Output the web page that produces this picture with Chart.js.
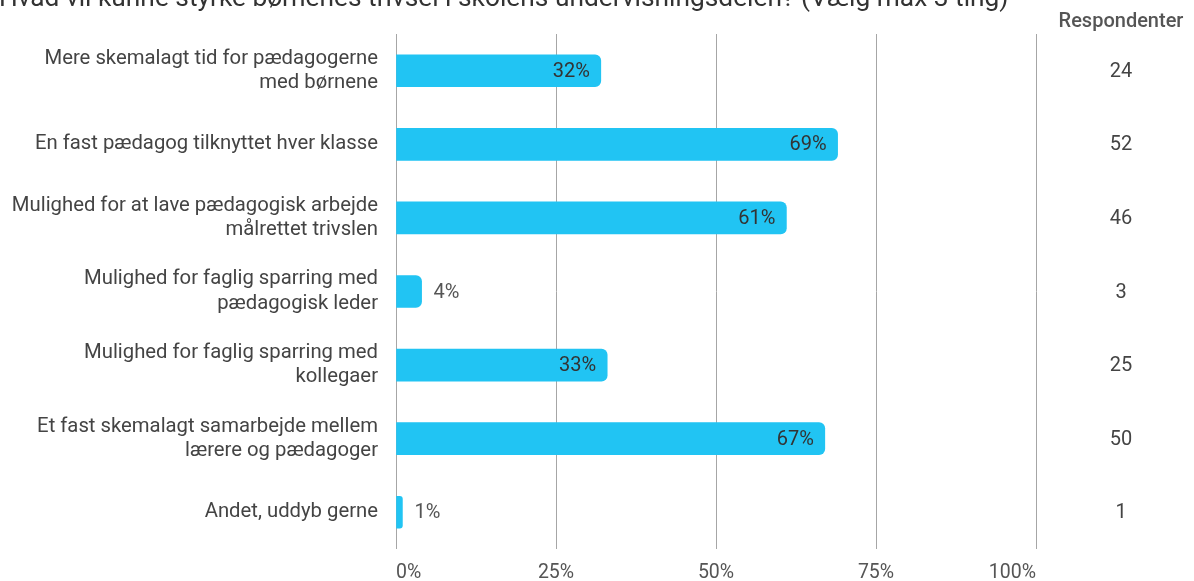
<!DOCTYPE html>
<html lang="da">
<head>
<meta charset="UTF-8">
<title>Børnenes trivsel</title>
<script src="https://cdn.jsdelivr.net/npm/chart.js"></script>
<style>
  html, body { margin: 0; padding: 0; background: #fff; }
  #wrap { position: relative; width: 1194px; height: 581px; }
</style>
</head>
<body>
<div id="wrap"><canvas id="chart"></canvas></div>
<script>
// Data
const titleText = 'Hvad vil kunne styrke børnenes trivsel i skolens undervisningsdelen? (Vælg max 3 ting)';
const categories = [
  ['Mere skemalagt tid for pædagogerne', 'med børnene'],
  ['En fast pædagog tilknyttet hver klasse'],
  ['Mulighed for at lave pædagogisk arbejde', 'målrettet trivslen'],
  ['Mulighed for faglig sparring med', 'pædagogisk leder'],
  ['Mulighed for faglig sparring med', 'kollegaer'],
  ['Et fast skemalagt samarbejde mellem', 'lærere og pædagoger'],
  ['Andet, uddyb gerne']
];
const percentValues = [32, 69, 61, 4, 33, 67, 1];
const respondents = [24, 52, 46, 3, 25, 50, 1];
const xTicks = [0, 25, 50, 75, 100];
const respondentHeader = 'Respondenter';

const FONT = 'Roboto, "Open Sans", sans-serif';
const BAR_COLOR = '#21c4f3';

// Tegner titel (delvist afskåret), respondent-kolonne og værdi-etiketter
const overlay = {
  id: 'overlay',
  afterDatasetsDraw(chart) {
    const ctx = chart.ctx;
    const y = chart.scales.y;
    const meta = chart.getDatasetMeta(0);
    ctx.save();

    // værdier på søjlerne
    ctx.font = '20px ' + FONT;
    ctx.textBaseline = 'middle';
    meta.data.forEach((bar, i) => {
      const v = percentValues[i];
      if (v >= 10) {
        ctx.fillStyle = '#333';
        ctx.textAlign = 'right';
        ctx.fillText(v + '%', bar.x - 11, bar.y + 1);
      } else {
        ctx.fillStyle = '#555';
        ctx.textAlign = 'left';
        ctx.fillText(v + '%', bar.x + 12, bar.y + 1);
      }
    });

    // respondent-kolonne
    const colX = 1121;
    ctx.fillStyle = '#555';
    ctx.textAlign = 'center';
    ctx.font = '500 20px ' + FONT;
    ctx.fillText(respondentHeader, colX, 22);
    ctx.font = '20px ' + FONT;
    ctx.fillStyle = '#444';
    respondents.forEach((n, i) => {
      ctx.fillText(String(n), colX, y.getPixelForValue(i) + 1);
    });

    // titel, toppen er skåret af i originalen
    ctx.fillStyle = '#333';
    ctx.textAlign = 'left';
    ctx.textBaseline = 'alphabetic';
    let size = 22;
    ctx.font = size + 'px ' + FONT;
    size = size * 1010 / ctx.measureText(titleText).width;
    ctx.font = size + 'px ' + FONT;
    ctx.fillText(titleText, -1, 6);
    ctx.restore();
  }
};

new Chart(document.getElementById('chart'), {
  type: 'bar',
  data: {
    labels: categories,
    datasets: [{
      data: percentValues,
      backgroundColor: BAR_COLOR,
      borderSkipped: false,
      borderRadius: { topLeft: 0, bottomLeft: 0, topRight: 6, bottomRight: 6 },
      barThickness: 32
    }]
  },
  options: {
    indexAxis: 'y',
    responsive: true,
    maintainAspectRatio: false,
    animation: false,
    layout: { padding: { top: 34, right: 158, bottom: 0, left: 0 } },
    plugins: {
      legend: { display: false },
      tooltip: { enabled: false }
    },
    scales: {
      x: {
        min: 0,
        max: 100,
        afterBuildTicks: s => { s.ticks = xTicks.map(v => ({ value: v })); },
        grid: { color: '#a6a6a6', lineWidth: 1, drawTicks: false },
        border: { display: false },
        ticks: {
          padding: 12,
          align: 'inner',
          color: '#555',
          font: { family: FONT, size: 19.5 },
          callback: v => v + '%'
        },
        afterFit: s => { s.height = 32; }
      },
      y: {
        grid: { display: false, drawTicks: false },
        border: { display: false },
        ticks: {
          padding: 18,
          color: '#444',
          font: { family: FONT, size: 20.3, lineHeight: 1.2 }
        },
        afterFit: s => {
          s.width = 396;
          s.paddingTop = 0;
          s.paddingBottom = 0;
        }
      }
    }
  },
  plugins: [overlay]
});
</script>
</body>
</html>
